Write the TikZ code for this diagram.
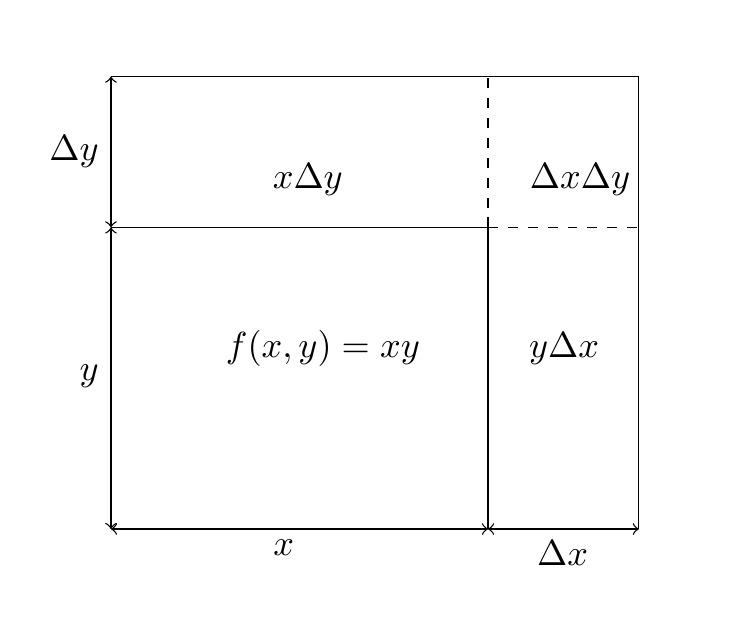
\documentclass[tikz,border=0pt]{standalone}
\usetikzlibrary{positioning}
\begin{document}
\begin{tikzpicture}[x=0.8cm, y=0.8cm,
    dim/.style={<->},
    lbl/.style={font=\fontsize{10.6pt}{13pt}\selectfont}
]
    \useasboundingbox (-1.472, -1.393) rectangle (8.342, 7.016);

    % Corners
    \coordinate (O) at (0, 0);
    \coordinate (X) at (5, 0);
    \coordinate (XD) at (7, 0);
    \coordinate (Y) at (0, 4);
    \coordinate (YD) at (0, 6);
    \coordinate (M) at (5, 4);
    \coordinate (MD) at (7, 4);
    \coordinate (TM) at (5, 6);
    \coordinate (TR) at (7, 6);

    % Outline
    \draw (YD) -- (TR) -- (XD);
    \draw (Y) -- (M) -- (X);
    \draw[dashed] (M) -- (TM);
    \draw[dashed] (M) -- (MD);

    % Side lengths
    \draw[dim] (O) -- (Y);
    \draw[dim] (Y) -- (YD);
    \draw[dim] (O) -- (X);
    \draw[dim] (X) -- (XD);

    % Area labels
    \node[lbl] (area) at (2.81, 2.40) {$f(x,y)=xy$};
    \node[lbl] (top) at (2.61, 4.63) {$x\Delta y$};
    \node[lbl] (right) at (6.01, 2.39) {$y\Delta x$};
    \node[lbl] (corner) at (6.22, 4.63) {$\Delta x\Delta y$};

    % Length labels
    \node[lbl] (ly) at (-0.29, 2.03) {$y$};
    \node[lbl] (ldy) at (-0.49, 5.0) {$\Delta y$};
    \node[lbl] (lx) at (2.29, -0.25) {$x$};
    \node[lbl] (ldx) at (5.99, -0.32) {$\Delta x$};
\end{tikzpicture}
\end{document}
